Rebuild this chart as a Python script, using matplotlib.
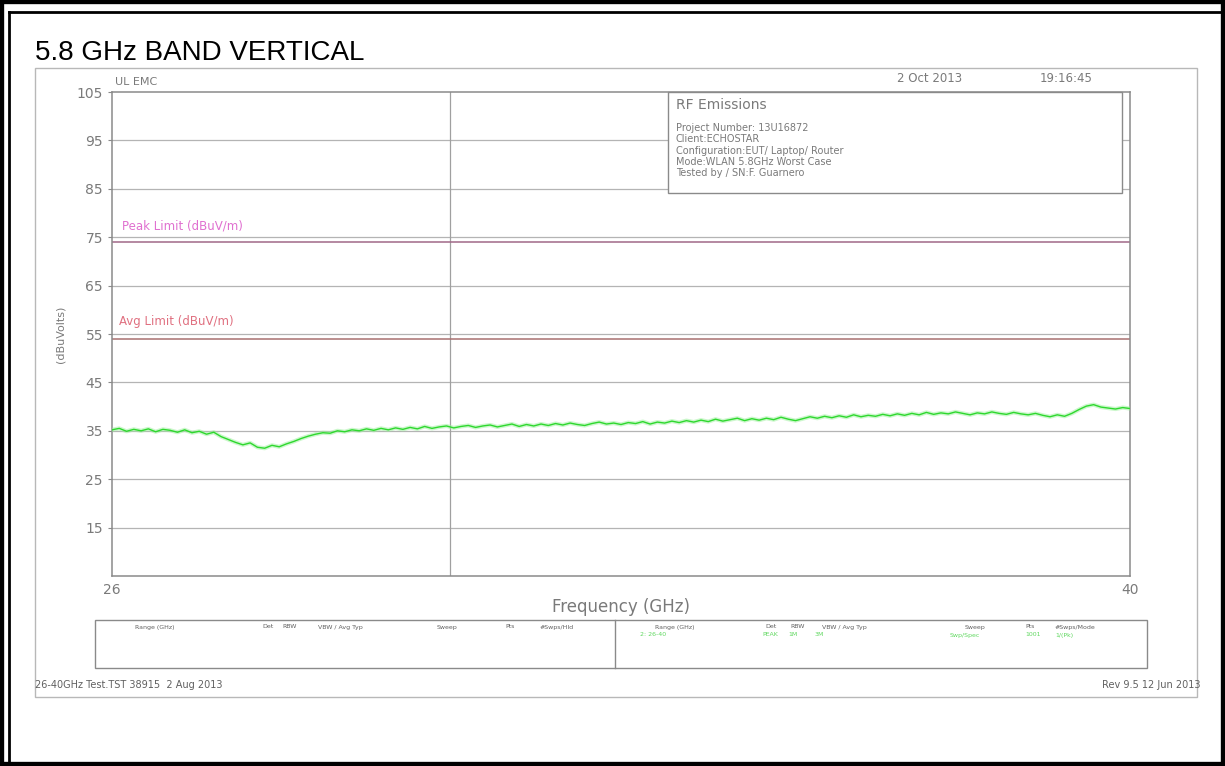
# 5.8 GHz band vertical - radiated emissions scan 26-40 GHz
import numpy as np
import matplotlib.pyplot as plt
from matplotlib.patches import Rectangle

# frequency axis of the trace (GHz) and measured level (dBuV/m)
freq_ghz = np.linspace(26.0, 40.0, 141)
level_dbuv = [
    35.2, 35.5, 34.9, 35.3, 35.0, 35.4, 34.8, 35.3, 35.1, 34.7,
    35.2, 34.6, 34.9, 34.3, 34.7, 33.8, 33.2, 32.6, 32.1, 32.5,
    31.6, 31.4, 32.0, 31.7, 32.3, 32.8, 33.4, 33.9, 34.3, 34.6,
    34.5, 35.0, 34.8, 35.2, 35.0, 35.4, 35.1, 35.5, 35.2, 35.6,
    35.3, 35.7, 35.4, 35.9, 35.5, 35.8, 36.0, 35.6, 35.9, 36.1,
    35.7, 36.0, 36.2, 35.8, 36.1, 36.4, 35.9, 36.3, 36.0, 36.4,
    36.1, 36.5, 36.2, 36.6, 36.3, 36.1, 36.5, 36.8, 36.4, 36.6,
    36.3, 36.7, 36.5, 36.9, 36.4, 36.8, 36.6, 37.0, 36.7, 37.1,
    36.8, 37.2, 36.9, 37.4, 37.0, 37.3, 37.6, 37.1, 37.5, 37.2,
    37.6, 37.3, 37.8, 37.4, 37.1, 37.5, 37.9, 37.6, 38.0, 37.7,
    38.1, 37.8, 38.3, 37.9, 38.2, 38.0, 38.4, 38.1, 38.5, 38.2,
    38.6, 38.3, 38.8, 38.4, 38.7, 38.5, 38.9, 38.6, 38.3, 38.7,
    38.5, 38.9, 38.6, 38.4, 38.8, 38.5, 38.3, 38.6, 38.2, 37.9,
    38.3, 38.0, 38.6, 39.4, 40.1, 40.4, 39.9, 39.7, 39.5, 39.8,
    39.6,
]
peak_limit = 74
avg_limit = 54
marker_ghz = 30.65
y_ticks = [15, 25, 35, 45, 55, 65, 75, 85, 95, 105]

info_lines = [
    "Project Number: 13U16872",
    "Client:ECHOSTAR",
    "Configuration:EUT/ Laptop/ Router",
    "Mode:WLAN 5.8GHz Worst Case",
    "Tested by / SN:F. Guarnero",
]
table_head = ["Range (GHz)", "Det", "RBW", "VBW / Avg Typ", "Sweep", "Pts", "#Swps/Hld"]
table_head2 = ["Range (GHz)", "Det", "RBW", "VBW / Avg Typ", "Sweep", "Pts", "#Swps/Mode"]
table_row2 = ["2: 26-40", "PEAK", "1M", "3M", "Swp/Spec", "1001", "1/(Pk)"]

W, H = 1225, 766
fig = plt.figure(figsize=(12.25, 7.66), dpi=100)
fig.patch.set_facecolor("white")

def px(x, y):
    return x / W, 1 - y / H

gray = "#8a8a8a"
txt = "#7a7a7a"

# page borders: thick outer edge, thin inner line on the top and left
fig.patches.append(Rectangle((0, 0), 1, 1, transform=fig.transFigure, fill=False,
                             lw=6, ec="black"))
fig.add_artist(plt.Line2D([9 / W, 9 / W], [0, 1 - 12 / H], transform=fig.transFigure,
                          color="black", lw=2))
fig.add_artist(plt.Line2D([9 / W, 1], [1 - 12 / H, 1 - 12 / H], transform=fig.transFigure,
                          color="black", lw=2))
# grey plotter frame
fig.patches.append(Rectangle(px(35, 697), (1197 - 35) / W, (697 - 68) / H,
                             transform=fig.transFigure, fill=False, lw=1, ec="#b8b8b8"))

fig.text(*px(35, 60), "5.8 GHz BAND VERTICAL", fontsize=20, family="Liberation Sans",
         color="black", va="baseline")

ax = fig.add_axes([112 / W, 1 - 576 / H, (1130 - 112) / W, (576 - 92) / H])
ax.set_xlim(26, 40)
ax.set_ylim(5, 105)
for v in y_ticks[:-1]:
    ax.axhline(v, color="#b4b4b4", lw=0.9, zorder=1)
ax.axvline(marker_ghz, color="#a0a0a0", lw=0.9, zorder=1)
ax.axhline(peak_limit, color="#a06888", lw=1.1, zorder=2)
ax.axhline(avg_limit, color="#a87070", lw=1.1, zorder=2)
ax.text(26.14, 77.3, "Peak Limit (dBuV/m)", color="#e070d0", fontsize=8.5, va="center")
ax.text(26.1, 57.5, "Avg Limit (dBuV/m)", color="#e07080", fontsize=8.5, va="center")

ax.plot(freq_ghz, level_dbuv, color="#9af09a", lw=3.0, alpha=0.5, zorder=3)
ax.plot(freq_ghz, level_dbuv, color="#2ed82e", lw=1.0, zorder=4)

# RF Emissions info box, white so it hides the grid
ax.add_patch(Rectangle(px(668, 193), (1122 - 668) / W, (193 - 92) / H,
                       transform=fig.transFigure, lw=1, ec=gray, fc="white",
                       zorder=6, clip_on=False))

ax.set_yticks(y_ticks)
ax.set_yticklabels([str(v) for v in y_ticks])
ax.set_xticks([26, 40])
ax.set_xticklabels(["26", "40"])
ax.tick_params(axis="y", colors=gray, labelcolor=txt, labelsize=10, length=3, width=0.8)
ax.tick_params(axis="x", colors=gray, labelcolor=txt, labelsize=10, length=0, pad=5)
for s in ax.spines.values():
    s.set_color(gray)
    s.set_linewidth(1.1)
ax.set_ylabel("(dBuVolts)", color=txt, fontsize=8, labelpad=8)
ax.set_xlabel("Frequency (GHz)", color=txt, fontsize=12, labelpad=1)

fig.text(*px(115, 82), "UL EMC", fontsize=8, color=txt, va="center")
fig.text(*px(897, 79), "2 Oct 2013", fontsize=8.5, color=txt, va="center")
fig.text(*px(1040, 79), "19:16:45", fontsize=8.5, color=txt, va="center")

fig.text(*px(676, 105), "RF Emissions", fontsize=10, color=txt, va="center", zorder=7)
for i, line in enumerate(info_lines):
    fig.text(*px(676, 128 + i * 11.3), line, fontsize=7, color=txt, va="center", zorder=7)

# settings table
fig.patches.append(Rectangle(px(95, 668), (1147 - 95) / W, (668 - 620) / H,
                             transform=fig.transFigure, fill=False, lw=1, ec=gray))
fig.add_artist(plt.Line2D([615 / W, 615 / W], [1 - 620 / H, 1 - 668 / H],
                          transform=fig.transFigure, color=gray, lw=1))
left_x = [135, 262, 282, 318, 437, 505, 540]
right_x = [655, 765, 790, 822, 965, 1025, 1055]
for x, t in zip(left_x, table_head):
    fig.text(*px(x, 627), t, fontsize=4.5, color="#606060", va="center")
for x, t in zip(right_x, table_head2):
    fig.text(*px(x, 627), t, fontsize=4.5, color="#606060", va="center")
row_x = [640, 762, 788, 815, 950, 1025, 1055]
for x, t in zip(row_x, table_row2):
    fig.text(*px(x, 635), t, fontsize=4.5, color="#60d860", va="center")

fig.text(*px(35, 685), "26-40GHz Test.TST 38915  2 Aug 2013", fontsize=7, color="#606060",
         va="center")
fig.text(*px(1200, 685), "Rev 9.5 12 Jun 2013", fontsize=7, color="#606060",
         va="center", ha="right")

plt.savefig("out.png", dpi=100)
